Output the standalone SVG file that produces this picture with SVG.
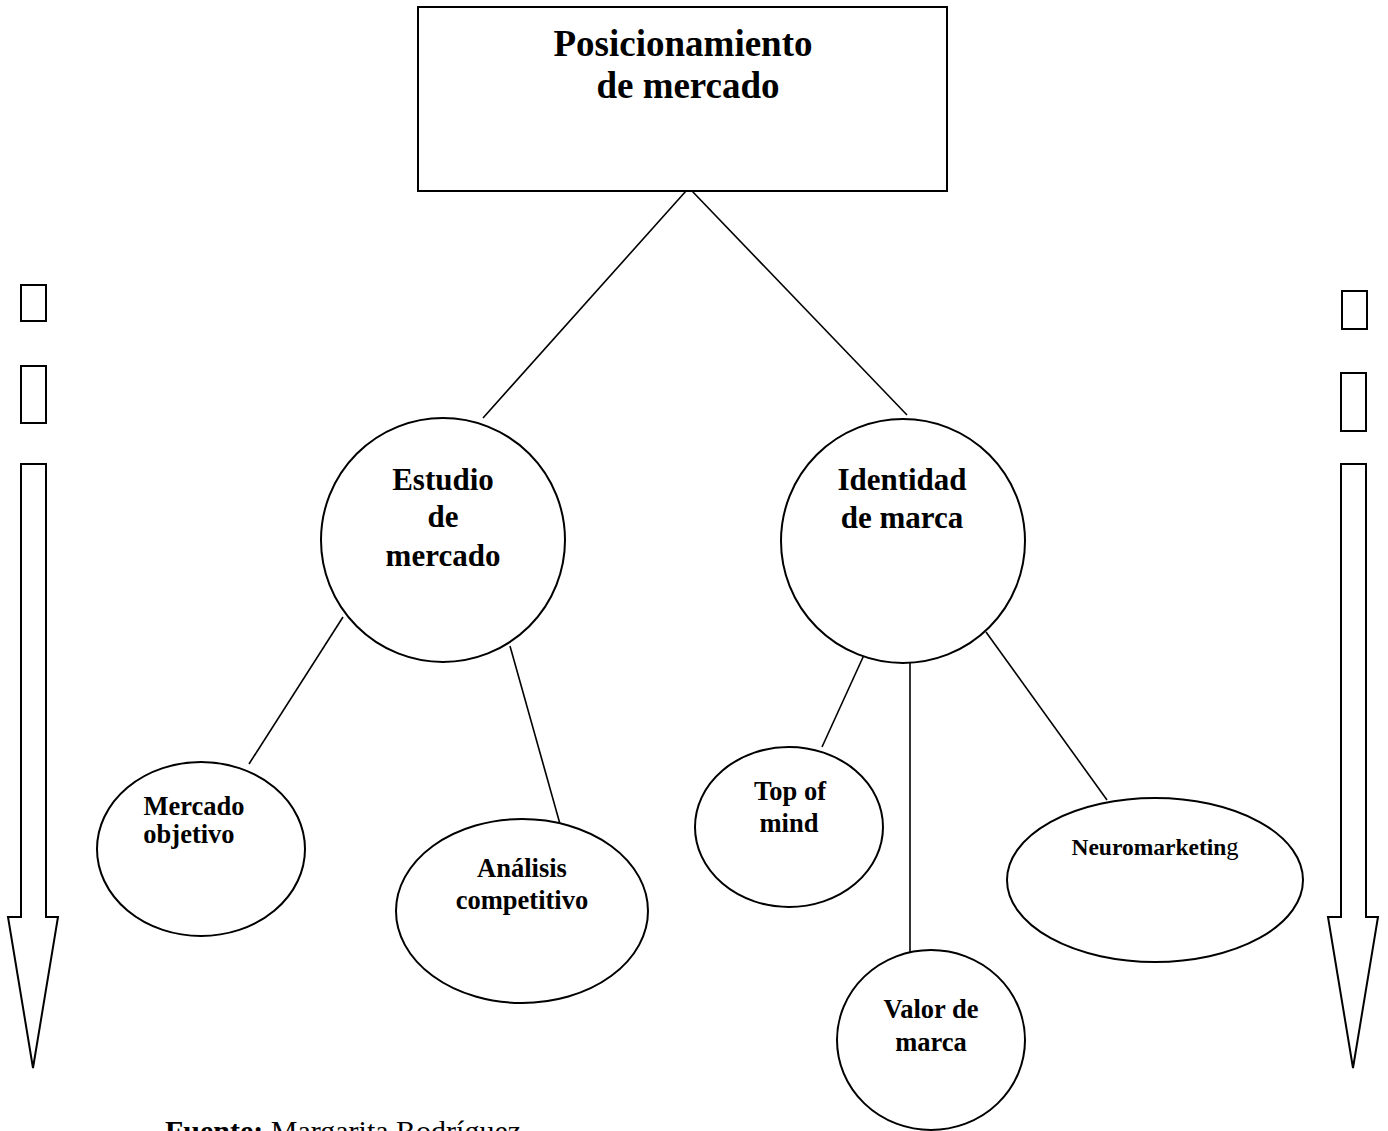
<svg xmlns="http://www.w3.org/2000/svg" width="1388" height="1131" viewBox="0 0 1388 1131">
  <style>
    .shape { fill: #fff; stroke: #000; stroke-width: 2; }
    .link { stroke: #000; stroke-width: 1.6; fill: none; }
    .lbl { font-family: "Liberation Serif", "Times New Roman", serif; font-weight: bold; fill: #000; text-anchor: middle; }
    .big { font-size: 37px; }
    .mid { font-size: 31px; }
    .sml { font-size: 26.5px; }
  </style>
  <rect width="1388" height="1131" fill="#fff"/>

  <!-- connectors -->
  <g id="connectors">
    <line class="link" x1="686" y1="191" x2="483" y2="418"/>
    <line class="link" x1="692" y1="191" x2="907" y2="415"/>
    <line class="link" x1="343" y1="617" x2="249" y2="764"/>
    <line class="link" x1="510" y1="646" x2="560" y2="824"/>
    <line class="link" x1="864" y1="655" x2="822" y2="747"/>
    <line class="link" x1="910" y1="663" x2="910" y2="959"/>
    <line class="link" x1="986" y1="632" x2="1107" y2="800"/>
  </g>

  <!-- root -->
  <g id="posicionamiento">
    <rect class="shape" x="418" y="7" width="529" height="184"/>
    <text class="lbl big" x="683" y="56">Posicionamiento</text>
    <text class="lbl big" x="688" y="98">de mercado</text>
  </g>

  <!-- second level -->
  <g id="estudio">
    <circle class="shape" cx="443" cy="540" r="122" stroke-width="1.8"/>
    <text class="lbl mid" x="443" y="490">Estudio</text>
    <text class="lbl mid" x="443" y="527">de</text>
    <text class="lbl mid" x="443" y="566">mercado</text>
  </g>
  <g id="identidad">
    <circle class="shape" cx="903" cy="541" r="122" stroke-width="1.8"/>
    <text class="lbl mid" x="902" y="490">Identidad</text>
    <text class="lbl mid" x="902" y="528">de marca</text>
  </g>

  <!-- leaves -->
  <g id="mercado-objetivo">
    <ellipse class="shape" cx="201" cy="849" rx="104" ry="87" stroke-width="1.8"/>
    <text class="lbl sml" x="194" y="815">Mercado</text>
    <text class="lbl sml" x="189" y="843">objetivo</text>
  </g>
  <g id="analisis">
    <ellipse class="shape" cx="522" cy="911" rx="126" ry="92" stroke-width="1.8"/>
    <text class="lbl sml" x="522" y="877">Análisis</text>
    <text class="lbl sml" x="522" y="909">competitivo</text>
  </g>
  <g id="top-of-mind">
    <ellipse class="shape" cx="789" cy="827" rx="94" ry="80" stroke-width="1.8"/>
    <text class="lbl sml" x="790" y="800">Top of</text>
    <text class="lbl sml" x="789" y="832">mind</text>
  </g>
  <g id="valor">
    <ellipse class="shape" cx="931" cy="1040" rx="94" ry="90" stroke-width="1.8"/>
    <text class="lbl sml" x="931" y="1018">Valor de</text>
    <text class="lbl sml" x="931" y="1051">marca</text>
  </g>
  <g id="neuromarketing">
    <ellipse class="shape" cx="1155" cy="880" rx="148" ry="82" stroke-width="1.8"/>
    <text class="lbl" x="1155" y="855" font-size="23.5"><tspan>Neuromarketin</tspan><tspan font-weight="normal" font-size="24.5">g</tspan></text>
  </g>

  <!-- side markers and down arrows -->
  <g id="left-side">
    <rect class="shape" x="21" y="285" width="25" height="36"/>
    <rect class="shape" x="21" y="366" width="25" height="57"/>
    <polygon class="shape" points="21,464 46,464 46,917 58,917 33,1068 8,917 21,917"/>
  </g>
  <g id="right-side">
    <rect class="shape" x="1342" y="291" width="25" height="38"/>
    <rect class="shape" x="1341" y="373" width="25" height="58"/>
    <polygon class="shape" points="1341,464 1366,464 1366,917 1378,917 1353,1068 1328,917 1341,917"/>
  </g>

  <!-- source line -->
  <text x="165" y="1141" font-family="Liberation Serif, Times New Roman, serif" font-size="30" fill="#000"><tspan font-weight="bold">Fuente:</tspan> Margarita Rodríguez</text>
</svg>
